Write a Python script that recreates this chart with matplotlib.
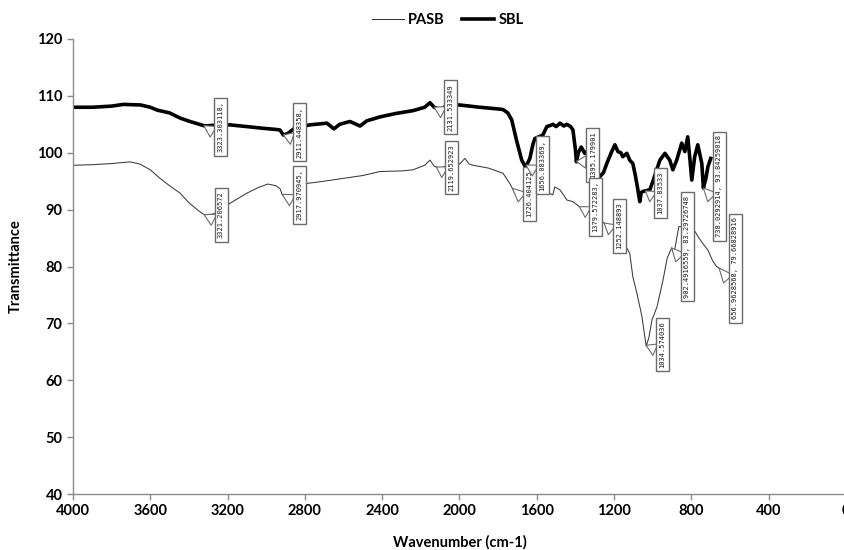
import numpy as np
import matplotlib
matplotlib.use("Agg")
import matplotlib.pyplot as plt

# FTIR spectra (wavenumber cm-1, transmittance)
sbl_wn = [4000, 3900, 3800, 3740, 3650, 3600, 3565, 3500, 3446, 3395, 3317, 3250,
          3188, 3100, 3017, 2950, 2929, 2911, 2888, 2850, 2774, 2686, 2650, 2620,
          2567, 2515, 2480, 2412, 2330, 2241, 2180, 2153, 2131, 2100, 2060, 2000,
          1895, 1800, 1775, 1750, 1730, 1705, 1678, 1662, 1650, 1636, 1620, 1610,
          1590, 1569, 1548, 1530, 1517, 1500, 1480, 1460, 1445, 1425, 1413, 1400,
          1395, 1385, 1370, 1352, 1330, 1300, 1274, 1255, 1238, 1215, 1196, 1180,
          1165, 1155, 1134, 1119, 1103, 1090, 1077, 1067, 1060, 1051, 1037, 1015,
          1000, 980, 963, 937, 912, 896, 876, 850, 834, 819, 808, 798, 783, 767,
          746, 738, 725, 715, 700]
sbl_t = [108.0, 108.0, 108.2, 108.5, 108.4, 108.0, 107.5, 107.0, 106.1, 105.5, 104.7, 104.9,
         104.9, 104.6, 104.3, 104.1, 104.0, 103.1, 103.4, 104.4, 104.9, 105.2, 104.2, 105.0,
         105.5, 104.7, 105.6, 106.3, 106.9, 107.4, 108.0, 108.8, 108.0, 107.6, 108.4, 108.4,
         108.0, 107.7, 107.6, 107.0, 105.8, 102.2, 98.7, 97.7, 98.0, 99.0, 101.5, 102.5,
         102.8, 103.1, 104.6, 104.8, 105.0, 104.6, 105.2, 104.7, 105.0, 104.6, 104.0, 100.5,
         98.4, 100.0, 101.0, 99.9, 100.5, 97.5, 95.8, 96.5, 98.1, 100.0, 101.4, 100.2,
         100.0, 99.3, 99.9, 98.7, 98.1, 96.0, 93.5, 91.4, 93.0, 93.2, 93.3, 93.5,
         94.9, 97.0, 98.7, 99.9, 98.7, 97.0, 98.7, 101.7, 100.2, 102.8, 99.0, 95.2, 99.3, 101.4,
         98.1, 93.8, 95.5, 97.5, 99.0]

pasb_wn = [4000, 3900, 3800, 3705, 3653, 3600, 3550, 3500, 3446, 3400, 3350, 3321,
           3276, 3230, 3188, 3100, 3040, 2991, 2950, 2929, 2917, 2880, 2830, 2791,
           2700, 2600, 2500, 2412, 2300, 2241, 2180, 2153, 2130, 2102, 2060, 2000,
           1972, 1950, 1930, 1850, 1775, 1740, 1713, 1690, 1671, 1651, 1636, 1610,
           1590, 1569, 1545, 1517, 1507, 1481, 1460, 1445, 1413, 1379, 1341, 1300,
           1274, 1238, 1222, 1190, 1170, 1140, 1119, 1103, 1082, 1056, 1034, 1020,
           1004, 978, 947, 925, 902, 890, 865, 840, 800, 780, 765, 740, 715, 690,
           670, 656, 650]
pasb_t = [97.8, 97.9, 98.1, 98.4, 98.0, 97.0, 95.5, 94.2, 92.9, 91.2, 89.8, 89.1,
          89.2, 90.0, 91.1, 92.9, 93.9, 94.5, 94.2, 93.7, 92.6, 91.5, 93.5, 94.6,
          95.0, 95.5, 96.0, 96.7, 96.8, 97.0, 97.8, 98.7, 97.6, 97.3, 97.8, 98.0,
          99.0, 98.0, 97.8, 97.3, 96.4, 94.6, 92.9, 93.0, 93.2, 93.5, 94.6, 92.3,
          93.6, 94.6, 93.0, 92.6, 94.0, 93.5, 92.5, 91.7, 91.4, 90.5, 89.8, 89.0,
          88.2, 87.3, 87.0, 86.0, 84.7, 83.6, 82.3, 78.2, 75.3, 71.2, 66.0, 67.5,
          70.6, 72.9, 77.6, 81.5, 83.3, 82.3, 87.0, 87.0, 86.5, 86.1, 85.2, 84.0, 82.9, 81.0,
          80.0, 79.7, 79.4]

# data labels: text, series, wavenumber of the point, label box centre (data coords)
callouts = [
    ("3323.303118,", "SBL", 3323.303118, 3237, 104.6),
    ("2911.448358,", "SBL", 2911.448358, 2828, 103.6),
    ("3321.206572", "PASB", 3321.206572, 3234, 89.1),
    ("2917.970945,", "PASB", 2917.970945, 2828, 92.6),
    ("2131.533349", "SBL", 2131.533349, 2047, 108.0),
    ("2119.652923", "PASB", 2119.652923, 2039, 97.4),
    ("1726.404125", "PASB", 1726.404125, 1639, 92.8),
    ("1656.083369,", "SBL", 1656.083369, 1571, 97.8),
    ("1395.179901", "SBL", 1395.179901, 1310, 99.6),
    ("1379.572283,", "PASB", 1379.572283, 1297, 90.5),
    ("1252.148893", "PASB", 1252.148893, 1173, 87.1),
    ("1037.83533", "SBL", 1037.83533, 961, 92.9),
    ("1034.574036", "PASB", 1034.574036, 950, 66.3),
    ("902.4916559, 83.29726748", "PASB", 902.4916559, 821, 83.5),
    ("738.0292914, 93.84259018", "SBL", 738.0292914, 656, 94.1),
    ("656.9628568, 79.66828916", "PASB", 656.9628568, 573, 79.7),
]

fig = plt.figure(figsize=(8.45, 5.5), dpi=100)
ax = fig.add_axes([73 / 845, 56 / 550, 773 / 845, 455 / 550])

l1, = ax.plot(pasb_wn, pasb_t, color="#3a3a3a", lw=0.75, label="PASB")
l2, = ax.plot(sbl_wn, sbl_t, color="black", lw=2.6, label="SBL")

series = {"PASB": (pasb_wn, pasb_t), "SBL": (sbl_wn, sbl_t)}
for txt, name, wn, bx, by in callouts:
    xs, ys = series[name]
    ty = np.interp(wn, xs[::-1], ys[::-1])
    ax.annotate(txt, xy=(wn, ty), xytext=(bx, by), textcoords="data",
                rotation=90, ha="center", va="center", fontsize=5,
                family="DejaVu Sans Mono", color="#1a1a1a",
                bbox=dict(boxstyle="square,pad=0.5", fc="white", ec="#6b6b6b", lw=1.0),
                arrowprops=dict(arrowstyle="wedge,tail_width=0.6", fc="white",
                                ec="#6b6b6b", lw=0.8, relpos=(0, 0.35),
                                shrinkA=0, shrinkB=0, mutation_scale=15))

ax.set_xlim(4000, 0)
ax.set_ylim(40, 120)
ax.set_xticks(np.arange(4000, -1, -400))
ax.set_yticks(np.arange(40, 121, 10))
for s in ["top", "right"]:
    ax.spines[s].set_visible(False)
for s in ["left", "bottom"]:
    ax.spines[s].set_color("#8c8c8c")
    ax.spines[s].set_linewidth(1.0)
ax.tick_params(colors="#8c8c8c", length=4, width=1.0, labelcolor="black")
for lab in ax.get_xticklabels() + ax.get_yticklabels():
    lab.set_family("Lato")
    lab.set_fontweight("bold")
    lab.set_fontsize(10.5)

ax.set_xlabel("Wavenumber (cm-1)", family="Lato", fontweight="bold", fontsize=10.5, labelpad=12)
ax.set_ylabel("Transmittance", family="Lato", fontweight="bold", fontsize=10.5, labelpad=10)

fig.legend(handles=[l1, l2], loc="upper center", bbox_to_anchor=(0.53, 1.0), ncol=2,
           frameon=False, prop=dict(family="Lato", weight="bold", size=10.5),
           handlelength=2.2, handletextpad=0.3, columnspacing=1.2)

fig.savefig("out.png", dpi=100)
